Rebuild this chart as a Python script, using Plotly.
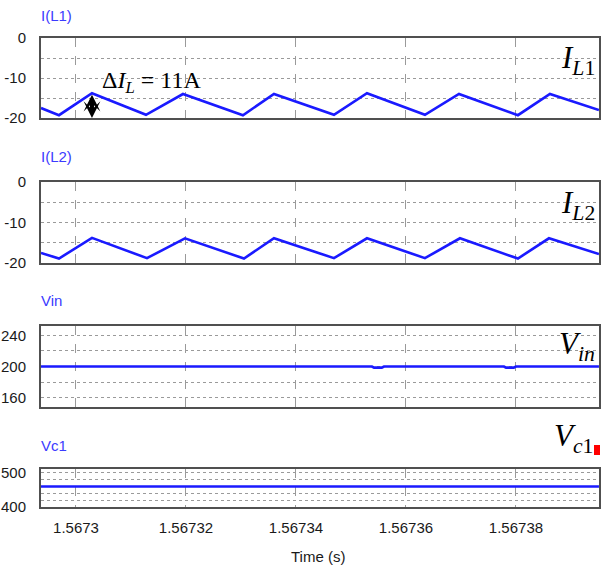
import plotly.graph_objects as go

# ---------------- data ----------------
t_il1 = [1.56729364, 1.56729691, 1.56730291, 1.56731273, 1.56731945, 1.56733036,
         1.56733600, 1.56734691, 1.56735291, 1.56736345, 1.56736964, 1.56738036,
         1.56738618, 1.56739509]
il1 = [-17.5, -19.3, -13.8, -19.2, -14.0, -19.3, -14.0, -19.2, -13.8, -19.2, -14.0,
       -19.3, -14.0, -18.0]

t_il2 = [1.56729364, 1.56729691, 1.56730291, 1.56731291, 1.56731982, 1.56733055,
         1.56733600, 1.56734691, 1.56735291, 1.56736345, 1.56736982, 1.56738036,
         1.56738600, 1.56739509]
il2 = [-17.5, -18.9, -13.8, -18.8, -13.9, -18.9, -13.9, -18.8, -13.9, -18.8, -13.9,
       -18.9, -13.9, -17.8]

t_vin = [1.56729364, 1.56735382, 1.56735420, 1.56735560, 1.56735600, 1.56737782,
         1.56737820, 1.56737960, 1.56738000, 1.56739509]
vin = [200, 200, 198.5, 198.5, 200, 200, 198.5, 198.5, 200, 200]

t_vc1 = [1.56729364, 1.56739509]
vc1 = [460, 460]

x_ticks = [1.5673, 1.56732, 1.56734, 1.56736, 1.56738]
x_ticktext = ["1.5673", "1.56732", "1.56734", "1.56736", "1.56738"]
x_range = [1.56729364, 1.5673951]

panel_titles = ["I(L1)", "I(L2)", "Vin", "Vc1"]

# ---------------- figure ----------------
W, H = 606, 571
L, R = 41, 7
PW = W - L - R


def dom(top_px, bot_px):
    return [1 - bot_px / H, 1 - top_px / H]


def px(xp):
    return (xp - L) / PW


domains = [dom(38, 118), dom(182, 263), dom(326, 407), dom(469, 507)]

LINE = "#1a1aff"
FRAME = "#505050"
GRID = "#9a9a9a"
SANS = "Liberation Sans, Arial, sans-serif"
TICKFONT = dict(family=SANS, size=15, color="#1a1a1a")
SERIF = "Liberation Serif, Times New Roman, serif"

fig = go.Figure()
series = [(t_il1, il1), (t_il2, il2), (t_vin, vin), (t_vc1, vc1)]
for i, (tx, vy) in enumerate(series):
    fig.add_trace(go.Scatter(x=tx, y=vy, mode="lines",
                             line=dict(color=LINE, width=2.6),
                             xaxis=f"x{i+1}" if i else "x",
                             yaxis=f"y{i+1}" if i else "y",
                             showlegend=False, hoverinfo="skip"))

y_specs = [
    dict(range=[-20, 0], tickvals=[0, -10, -20], tick0=-20, minor_dtick=5),
    dict(range=[-20, 0], tickvals=[0, -10, -20], tick0=-20, minor_dtick=5),
    dict(range=[148, 252], tickvals=[160, 200, 240], tick0=160, minor_dtick=20),
    dict(range=[400, 511], tickvals=[400, 500], tick0=400, minor_dtick=20),
]

layout = dict(
    width=W, height=H,
    margin=dict(l=L, r=R, t=0, b=0),
    paper_bgcolor="white", plot_bgcolor="white",
    showlegend=False,
)
for i in range(4):
    xs = "xaxis" if i == 0 else f"xaxis{i+1}"
    ys = "yaxis" if i == 0 else f"yaxis{i+1}"
    layout[xs] = dict(
        domain=[0, 1], anchor="y" if i == 0 else f"y{i+1}",
        range=x_range, tickvals=x_ticks, ticktext=x_ticktext,
        showticklabels=(i == 3), ticks="outside", ticklen=6, tickcolor="rgba(0,0,0,0)",
        tickfont=TICKFONT,
        showgrid=True, gridcolor=GRID, griddash="dash", gridwidth=1,
        showline=True, mirror=True, linecolor=FRAME, linewidth=2,
        zeroline=False, automargin=False, fixedrange=True,
    )
    spec = y_specs[i]
    layout[ys] = dict(
        domain=domains[i], anchor="x" if i == 0 else f"x{i+1}",
        range=spec["range"], tickmode="array", tickvals=spec["tickvals"],
        ticktext=[str(v) for v in spec["tickvals"]],
        ticks="outside", ticklen=10, tickcolor="rgba(0,0,0,0)", tickfont=TICKFONT,
        showgrid=True, gridcolor=GRID, griddash="dot", gridwidth=1,
        minor=dict(tickmode="linear", tick0=spec["tick0"], dtick=spec["minor_dtick"],
                   showgrid=True, gridcolor=GRID, griddash="dot", gridwidth=1, ticks=""),
        showline=True, mirror=True, linecolor=FRAME, linewidth=2,
        zeroline=False, automargin=False, fixedrange=True,
    )

fig.update_layout(**layout)

ann = []
title_y = [15, 157, 300, 445]
for name, ypx in zip(panel_titles, title_y):
    ann.append(dict(text=name, x=px(39), xref="paper", xanchor="left",
                    y=1 - ypx / H, yref="paper", yanchor="middle", showarrow=False,
                    font=dict(family=SANS, size=15, color="#3b3bff")))

# big signal labels
BIG = dict(family=SERIF, size=31, color="black")
ann.append(dict(text="<i>I</i><sub><i>L</i>1</sub>", xref="paper", yref="paper", x=px(559), y=1 - 60 / H,
                xanchor="left", yanchor="middle", showarrow=False, font=BIG))
ann.append(dict(text="<i>I</i><sub><i>L</i>2</sub>", xref="paper", yref="paper", x=px(559), y=1 - 205 / H,
                xanchor="left", yanchor="middle", showarrow=False, font=BIG))
ann.append(dict(text="<i>V</i><sub><i>in</i></sub>", xref="paper", yref="paper", x=px(557), y=1 - 346 / H,
                xanchor="left", yanchor="middle", showarrow=False, font=BIG))
ann.append(dict(text="<i>V</i><sub><i>c</i>1</sub>", xref="paper", yref="paper", x=px(552), y=1 - 438 / H,
                xanchor="left", yanchor="middle", showarrow=False, font=BIG))
ann.append(dict(text="Δ<i>I</i><sub><i>L</i></sub> = 11A", xref="paper", yref="paper", x=px(100), y=1 - 82 / H,
                xanchor="left", yanchor="middle", showarrow=False,
                font=dict(family=SERIF, size=24, color="black")))
ann.append(dict(text="Time (s)", xref="paper", yref="paper", x=px(318), y=1 - 556 / H,
                xanchor="center", yanchor="middle", showarrow=False,
                font=dict(family=SANS, size=15, color="#1a1a1a")))
# double-headed arrow for ripple
ann.append(dict(text="", x=1.56730291, y=-20, ax=1.56730291, ay=-13.8, xref="x", yref="y",
                axref="x", ayref="y", showarrow=True, arrowhead=3, arrowside="end+start",
                arrowwidth=4, arrowsize=0.7, arrowcolor="black"))
fig.update_layout(annotations=ann)

fig.add_shape(type="rect", xref="paper", yref="paper",
              x0=px(594), x1=px(600),
              y0=1 - 455 / H, y1=1 - 445 / H, fillcolor="#ff0000", line=dict(width=0))

fig.write_html("out.html", config={"displayModeBar": False},
               post_script="document.body.style.margin='0';document.body.style.overflow='hidden';")
